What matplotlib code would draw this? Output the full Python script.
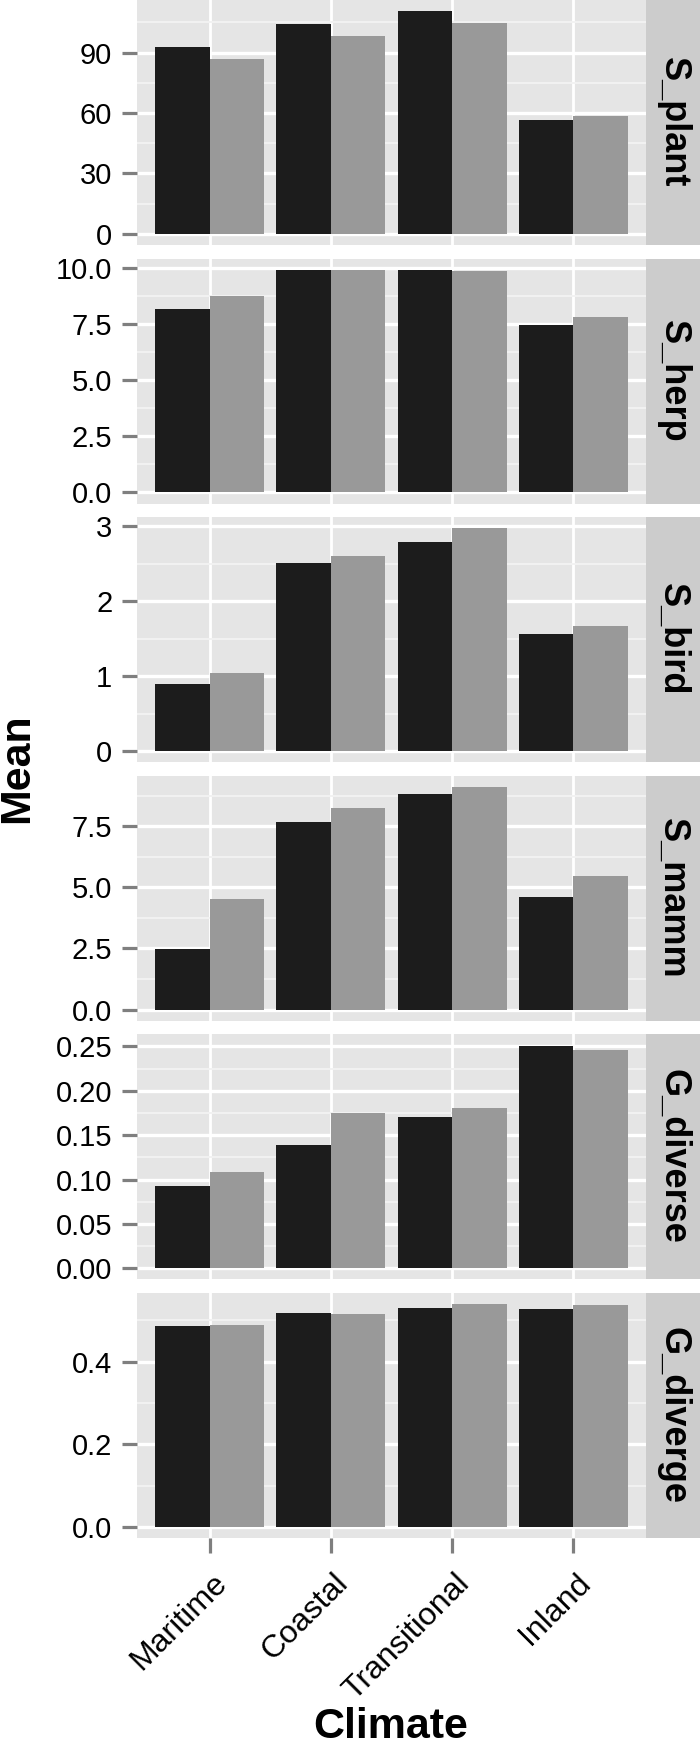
import numpy as np
import matplotlib
matplotlib.use("Agg")
import matplotlib.pyplot as plt
from matplotlib.ticker import FixedLocator
from matplotlib.transforms import ScaledTranslation

plt.rcParams['font.family'] = ['Liberation Sans', 'DejaVu Sans']

climates = ["Maritime", "Coastal", "Transitional", "Inland"]
panel_names = ["S_plant", "S_herp", "S_bird", "S_mamm", "G_diverse", "G_diverge"]

# two groups per climate: dark bar first, light bar second
s_plant_dark = [92.6, 104.0, 110.6, 56.7]
s_plant_light = [86.6, 98.2, 104.8, 58.6]
s_herp_dark = [8.18, 9.93, 9.93, 7.46]
s_herp_light = [8.75, 9.94, 9.90, 7.83]
s_bird_dark = [0.90, 2.51, 2.79, 1.56]
s_bird_light = [1.04, 2.60, 2.97, 1.67]
s_mamm_dark = [2.49, 7.68, 8.83, 4.61]
s_mamm_light = [4.53, 8.25, 9.10, 5.48]
g_diverse_dark = [0.0925, 0.139, 0.171, 0.251]
g_diverse_light = [0.108, 0.175, 0.181, 0.246]
g_diverge_dark = [0.485, 0.517, 0.530, 0.527]
g_diverge_light = [0.488, 0.514, 0.539, 0.538]

# y axis breaks and labels for each panel
s_plant_ticks = [0, 30, 60, 90]
s_plant_labels = ["0", "30", "60", "90"]
s_herp_ticks = [0, 2.5, 5, 7.5, 10]
s_herp_labels = ["0.0", "2.5", "5.0", "7.5", "10.0"]
s_bird_ticks = [0, 1, 2, 3]
s_bird_labels = ["0", "1", "2", "3"]
s_mamm_ticks = [0, 2.5, 5, 7.5]
s_mamm_labels = ["0.0", "2.5", "5.0", "7.5"]
g_diverse_ticks = [0, 0.05, 0.10, 0.15, 0.20, 0.25]
g_diverse_labels = ["0.00", "0.05", "0.10", "0.15", "0.20", "0.25"]
g_diverge_ticks = [0, 0.2, 0.4]
g_diverge_labels = ["0.0", "0.2", "0.4"]

dark_values = [s_plant_dark, s_herp_dark, s_bird_dark, s_mamm_dark, g_diverse_dark, g_diverge_dark]
light_values = [s_plant_light, s_herp_light, s_bird_light, s_mamm_light, g_diverse_light, g_diverge_light]
tick_values = [s_plant_ticks, s_herp_ticks, s_bird_ticks, s_mamm_ticks, g_diverse_ticks, g_diverge_ticks]
tick_labels = [s_plant_labels, s_herp_labels, s_bird_labels, s_mamm_labels, g_diverse_labels, g_diverge_labels]

W, H = 700, 1748
PANEL_LEFT, PANEL_RIGHT, STRIP_RIGHT = 137, 646, 700
PANEL_H, PANEL_STEP = 245, 258.6

def drawPanel(ax, dark, light, ticks, labels):
    x = np.arange(len(climates))
    ax.set_facecolor("#E5E5E5")
    ax.set_axisbelow(True)
    ax.bar(x - 0.225, dark, width=0.45, color="#1C1C1C", linewidth=0)
    ax.bar(x + 0.225, light, width=0.45, color="#999999", linewidth=0)
    lo = min(0, min(dark), min(light))
    hi = max(max(dark), max(light))
    pad = 0.05 * (hi - lo)
    ax.set_ylim(lo - pad, hi + pad)
    ax.set_xlim(-0.6, len(climates) - 0.4)
    step = ticks[1] - ticks[0]
    ext = [ticks[0] - step] + list(ticks) + [ticks[-1] + step]
    minors = [(a + b) / 2 for a, b in zip(ext[:-1], ext[1:])]
    minors = [m for m in minors if lo - pad < m < hi + pad]
    ax.yaxis.set_major_locator(FixedLocator(ticks))
    ax.set_yticklabels(labels)
    ax.yaxis.set_minor_locator(FixedLocator(minors))
    ax.grid(which="major", axis="y", color="white", linewidth=2.4)
    ax.grid(which="minor", axis="y", color="#F2F2F2", linewidth=1.4)
    ax.grid(which="major", axis="x", color="white", linewidth=2.0)
    ax.set_xticks(x)
    ax.tick_params(axis="y", which="major", length=10.8, width=2.3, color="#7F7F7F",
                   labelsize=21, labelcolor="black", pad=7)
    ax.tick_params(axis="y", which="minor", length=0)
    for s in ax.spines.values():
        s.set_visible(False)

fig = plt.figure(figsize=(W / 100, H / 100), dpi=100)

axes = []
for i, name in enumerate(panel_names):
    top = i * PANEL_STEP
    bottom = H - top - PANEL_H
    ax = fig.add_axes([PANEL_LEFT / W, bottom / H, (PANEL_RIGHT - PANEL_LEFT) / W, PANEL_H / H])
    drawPanel(ax, dark_values[i], light_values[i], tick_values[i], tick_labels[i])
    # facet strip on the right
    sax = fig.add_axes([PANEL_RIGHT / W, bottom / H, (STRIP_RIGHT - PANEL_RIGHT) / W, PANEL_H / H])
    sax.set_facecolor("#CCCCCC")
    sax.set_xticks([])
    sax.set_yticks([])
    for s in sax.spines.values():
        s.set_visible(False)
    sax.text(0.5, 0.5, name, rotation=-90, ha="center", va="center", fontsize=26,
             fontweight="bold", transform=sax.transAxes)
    axes.append(ax)

for ax in axes[:-1]:
    ax.tick_params(axis="x", length=0, labelbottom=False)

last = axes[-1]
last.set_xticklabels(climates)
last.tick_params(axis="x", length=10.8, width=2.3, color="#7F7F7F", labelsize=23, pad=11)
offset = ScaledTranslation(2 / 100, 0, fig.dpi_scale_trans)
for lbl in last.get_xticklabels():
    lbl.set_rotation(45)
    lbl.set_ha("right")
    lbl.set_va("top")
    lbl.set_rotation_mode("anchor")
    lbl.set_transform(lbl.get_transform() + offset)

fig.text(17 / W, 1 - 768 / H, "Mean", rotation=90, ha="center", va="center",
         fontsize=31, fontweight="bold")
fig.text(391 / W, 1 / H, "Climate", ha="center", va="bottom",
         fontsize=31, fontweight="bold")

fig.savefig("out.png", dpi=100)
